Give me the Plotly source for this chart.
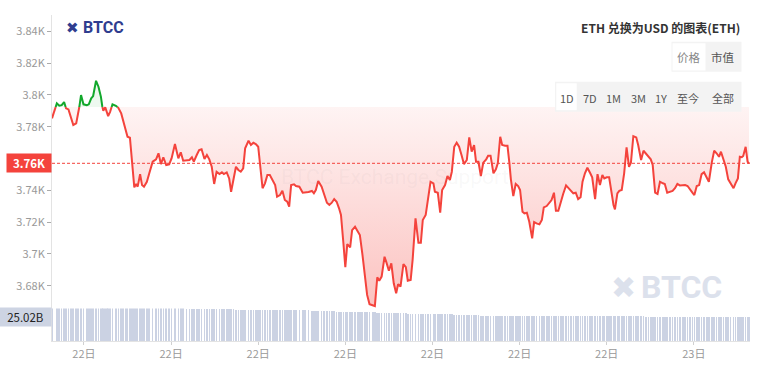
import numpy as np
import pandas as pd
import plotly.graph_objects as go

# ---------------- data ----------------
start_time = "2024-05-22 01:54"
minutes = [0, 10, 15, 20, 25, 29, 34, 39, 44, 50, 54, 60, 65, 72, 76, 81, 85, 91, 96, 101,
           104, 106, 110, 113, 116, 120, 125, 132, 137, 143, 147, 153, 156, 161, 165, 170, 174, 177, 182, 186,
           190, 196, 201, 208, 215, 220, 225, 230, 236, 242, 247, 254, 261, 266, 271, 278, 284, 289, 293, 299,
           304, 309, 315, 320, 325, 330, 335, 340, 346, 351, 355, 361, 366, 370, 375, 380, 385, 390, 395, 399,
           406, 411, 416, 421, 426, 430, 435, 440, 445, 450, 456, 461, 465, 471, 476, 481, 486, 490, 494, 500,
           504, 511, 518, 523, 530, 537, 541, 545, 550, 557, 562, 568, 573, 578, 583, 588, 593, 597, 602, 606,
           610, 616, 620, 626, 632, 636, 641, 646, 651, 656, 663, 667, 672, 676, 681, 687, 691, 696, 701, 706,
           711, 715, 720, 726, 731, 735, 741, 745, 751, 757, 762, 766, 772, 777, 782, 788, 791, 797, 802, 806,
           812, 817, 822, 826, 831, 836, 841, 846, 851, 857, 862, 867, 872, 876, 881, 886, 891, 897, 901, 906,
           912, 917, 921, 926, 930, 936, 941, 945, 948, 953, 958, 963, 967, 972, 976, 981, 986, 992, 996, 1001,
           1007, 1012, 1016, 1022, 1027, 1032, 1037, 1041, 1046, 1052, 1056, 1062, 1067, 1072, 1077, 1082, 1087, 1092, 1096, 1101,
           1106, 1112, 1116, 1122, 1127, 1132, 1137, 1141, 1146, 1151, 1155, 1160, 1163, 1168, 1172, 1177, 1182, 1187, 1192, 1196,
           1201, 1207, 1211, 1217, 1222, 1227, 1232, 1237, 1241, 1246, 1251, 1256, 1262, 1266, 1271, 1277, 1282, 1287, 1292, 1297,
           1303, 1308, 1313, 1318, 1323, 1327, 1332, 1337, 1342, 1347, 1353, 1357, 1363, 1368, 1373, 1378, 1382, 1387, 1392, 1397,
           1402, 1408, 1412, 1417, 1421, 1425, 1428, 1433, 1437, 1440]

prices = [3785.3, 3794.7, 3793.2, 3793.6, 3795.5, 3791.6, 3790.9, 3786.3, 3781.1, 3782.1,
          3787.4, 3799.9, 3794.1, 3793.6, 3794.1, 3797.9, 3799.3, 3808.9, 3805.2, 3798.9,
          3792.6, 3790.1, 3792.2, 3789.4, 3786.7, 3789.4, 3794.1, 3793.2, 3791.9, 3788.4,
          3784.2, 3777.9, 3773.7, 3773.1, 3761.1, 3741.9, 3744.0, 3742.3, 3750.2, 3743.3,
          3742.3, 3745.4, 3750.7, 3758.0, 3759.5, 3763.3, 3756.5, 3760.8, 3755.9, 3756.3,
          3760.1, 3769.1, 3760.1, 3763.9, 3758.6, 3759.1, 3759.1, 3760.8, 3758.0, 3762.2,
          3765.3, 3765.8, 3759.7, 3762.2, 3759.5, 3754.8, 3744.0, 3751.7, 3750.2, 3751.3,
          3750.2, 3751.3, 3747.5, 3739.1, 3747.5, 3754.8, 3752.8, 3751.7, 3753.8, 3766.4,
          3771.2, 3768.5, 3769.9, 3769.1, 3767.4, 3754.8, 3741.3, 3744.4, 3749.6, 3749.6,
          3746.5, 3743.3, 3736.0, 3737.0, 3739.7, 3733.9, 3732.8, 3729.7, 3743.3, 3743.8,
          3742.7, 3742.3, 3738.5, 3738.5, 3738.9, 3739.6, 3738.1, 3740.2, 3745.8, 3742.3,
          3737.0, 3732.2, 3730.8, 3732.2, 3734.5, 3732.8, 3728.7, 3724.5, 3706.7, 3691.6,
          3706.2, 3704.1, 3715.0, 3717.1, 3714.0, 3711.9, 3700.4, 3686.7, 3674.2, 3668.3,
          3667.9, 3667.2, 3685.3, 3683.1, 3685.7, 3698.2, 3694.5, 3689.4, 3694.1, 3681.5,
          3675.2, 3680.9, 3679.4, 3693.6, 3691.6, 3683.1, 3683.6, 3696.2, 3722.4, 3707.0,
          3707.0, 3721.3, 3724.5, 3733.9, 3745.4, 3744.4, 3739.1, 3738.5, 3725.9, 3740.2,
          3743.3, 3749.0, 3746.5, 3751.7, 3767.4, 3769.9, 3767.4, 3762.2, 3756.5, 3759.1,
          3773.3, 3764.3, 3768.5, 3758.0, 3758.0, 3749.0, 3757.4, 3759.5, 3761.8, 3761.8,
          3750.7, 3753.2, 3757.0, 3773.7, 3768.5, 3768.0, 3768.0, 3757.0, 3746.9, 3736.4,
          3744.0, 3742.7, 3740.2, 3726.5, 3725.5, 3725.9, 3720.2, 3709.8, 3720.0, 3719.2,
          3718.6, 3721.3, 3729.3, 3730.1, 3731.8, 3733.9, 3738.5, 3727.2, 3727.2, 3733.9,
          3737.7, 3743.1, 3741.3, 3739.7, 3738.1, 3738.5, 3734.5, 3735.6, 3745.4, 3750.7,
          3754.2, 3750.7, 3748.2, 3734.5, 3750.2, 3743.3, 3749.6, 3747.5, 3748.2, 3748.2,
          3739.1, 3730.8, 3728.0, 3738.1, 3739.7, 3740.2, 3750.7, 3767.0, 3754.8, 3757.4,
          3774.1, 3773.3, 3768.5, 3759.1, 3764.9, 3763.3, 3761.1, 3759.5, 3755.9, 3738.5,
          3737.7, 3745.4, 3744.4, 3744.0, 3738.5, 3739.1, 3739.6, 3741.3, 3744.0, 3743.1,
          3743.1, 3743.3, 3742.7, 3740.2, 3738.5, 3737.0, 3742.7, 3743.3, 3750.2, 3751.3,
          3748.2, 3745.4, 3757.4, 3764.9, 3763.3, 3761.1, 3764.3, 3760.1, 3754.8, 3746.9,
          3744.4, 3741.3, 3744.4, 3747.5, 3761.1, 3760.8, 3761.6, 3767.4, 3758.0, 3757.0]

# 24h volume, billions USD
volumes = [34.6, 34.7, 34.6, 34.5, 34.6, 34.7, 34.6, 34.6, 34.5, 34.6,
           34.7, 34.6, 34.6, 34.5, 34.6, 34.6, 34.7, 34.6, 34.5, 34.6,
           34.6, 34.5, 34.6, 34.6, 34.5, 34.6, 34.5, 34.5, 34.6, 34.5,
           34.4, 34.5, 34.5, 34.4, 34.5, 34.4, 34.4, 34.5, 34.4, 34.3,
           34.4, 34.3, 34.3, 34.4, 34.3, 34.2, 34.3, 34.2, 34.2, 34.3,
           34.2, 34.1, 34.1, 34.0, 34.0, 33.9, 33.9, 33.8, 33.8, 33.7,
           33.7, 33.6, 33.6, 33.5, 33.5, 33.4, 33.4, 33.3, 33.3, 33.2,
           33.2, 33.1, 33.1, 33.0, 33.0, 32.9, 32.9, 32.9, 32.8, 32.8,
           32.8, 32.7, 32.7, 32.7, 32.6, 32.6, 32.6, 32.5, 32.5, 32.5,
           32.4, 32.4, 32.4, 32.3, 32.3, 32.3, 32.2, 32.2, 32.2, 32.1,
           32.1, 32.1, 32.0, 32.0, 31.9, 31.8, 31.7, 31.6, 31.5, 31.4,
           31.3, 31.2, 31.1, 31.0, 30.9, 30.8, 30.7, 30.6, 30.4, 30.3,
           30.2, 30.1, 30.1, 30.0, 30.0, 30.0, 29.9, 29.9, 29.9, 29.8,
           29.8, 29.8, 29.7, 29.7, 29.6, 29.5, 29.4, 29.3, 29.2, 29.1,
           29.0, 28.9, 28.8, 28.7, 28.7, 28.6, 28.6, 28.6, 28.5, 28.5,
           28.5, 28.4, 28.4, 28.4, 28.3, 28.3, 28.3, 28.2, 28.2, 28.1,
           28.0, 27.9, 27.8, 27.7, 27.6, 27.5, 27.4, 27.3, 27.2, 27.1,
           27.0, 26.9, 26.8, 26.7, 26.6, 26.5, 26.4, 26.3, 26.3, 26.2,
           26.2, 26.2, 26.2, 26.1, 26.1, 26.1, 26.1, 26.1, 26.0, 26.0,
           26.0, 26.0, 26.0, 26.0, 26.0, 25.9, 25.9, 25.9, 25.9, 25.9,
           25.9, 25.9, 25.9, 25.9, 25.9, 25.8, 25.8, 25.8, 25.8, 25.8,
           25.8, 25.8, 25.8, 25.8, 25.8, 25.8, 25.8, 25.8, 25.7, 25.7,
           25.7, 25.7, 25.7, 25.7, 25.7, 25.7, 25.7, 25.7, 25.7, 25.7,
           25.7, 25.6, 25.6, 25.6, 25.6, 25.6, 25.6, 25.6, 25.6, 25.6,
           25.6, 25.6, 25.6, 25.6, 25.6, 25.5, 25.5, 25.5, 25.5, 25.5,
           25.5, 25.5, 25.5, 25.5, 25.5, 25.5, 25.5, 25.5, 25.4, 25.4,
           25.4, 25.4, 25.4, 25.4, 25.3, 25.3, 25.3, 25.3, 25.3, 25.2,
           25.2, 25.2, 25.2, 25.2, 25.1, 25.1, 25.1, 25.1, 25.1, 25.1,
           25.1, 25.1, 25.1, 25.0, 25.0, 25.0, 25.0, 25.0, 25.0, 25.02]

baseline_price = 3792.4
current_price = prices[-1]
current_price_label = "3.76K"
current_volume_label = "25.02B"

# the 3.76K tick sits under the current-price label, so it is not shown separately
price_tickvals = [3680, 3700, 3720, 3740, 3780, 3800, 3820, 3840]
price_ticktext = ["3.68K", "3.7K", "3.72K", "3.74K", "3.78K", "3.8K", "3.82K", "3.84K"]

x_tick_times = ["2024-05-22 03:00", "2024-05-22 06:00", "2024-05-22 09:00", "2024-05-22 12:00",
                "2024-05-22 15:00", "2024-05-22 18:00", "2024-05-22 21:00", "2024-05-23 00:00"]
x_tick_labels = ["22日", "22日", "22日", "22日", "22日", "22日", "22日", "23日"]

chart_title = "ETH 兑换为USD 的图表(ETH)"
view_buttons = ["价格", "市值"]
range_buttons = ["1D", "7D", "1M", "3M", "1Y", "至今", "全部"]

# ---------------- styling ----------------
RED = "#f4433c"
GREEN = "#12a82c"
FONT = "Noto Sans CJK SC, Noto Sans, sans-serif"
W, H = 766, 372
ML, MR, MT, MB = 52, 16, 15, 31
PW, PH = W - ML - MR, H - MT - MB


def px(x):
    return (x - ML) / PW


def py(y):
    return (H - MB - y) / PH


t0 = pd.Timestamp(start_time)
tm = np.array(minutes, dtype=float)
pr = np.array(prices, dtype=float)
B = baseline_price

# insert baseline crossings so colours switch exactly at the baseline
xs, ys = [tm[0]], [pr[0]]
for i in range(1, len(pr)):
    a, b = pr[i - 1] - B, pr[i] - B
    if a * b < 0:
        f = a / (a - b)
        xs.append(tm[i - 1] + f * (tm[i] - tm[i - 1]))
        ys.append(B)
    xs.append(tm[i])
    ys.append(pr[i])
xs = np.array(xs)
ys = np.array(ys)
times = t0 + pd.to_timedelta(xs, unit="m")
bar_times = t0 + pd.to_timedelta(tm, unit="m")

lower = np.minimum(ys, B)
upper = np.maximum(ys, B)
red_y = np.where(ys <= B, ys, np.nan)
green_y = np.where(ys >= B, ys, np.nan)

fig = go.Figure()

fig.add_trace(go.Bar(x=bar_times, y=volumes, yaxis="y2", marker=dict(color="#cbd2e3", line=dict(width=0)),
                     width=1.3 * 60 * 1000, hoverinfo="skip", showlegend=False))

fig.add_trace(go.Scatter(x=times, y=np.full(len(xs), B), mode="lines", line=dict(width=0),
                         hoverinfo="skip", showlegend=False))
fig.add_trace(go.Scatter(x=times, y=lower, mode="lines", line=dict(width=0), fill="tonexty",
                         fillgradient=dict(type="vertical",
                                           colorscale=[[0, "rgba(244,67,60,0.32)"], [1, "rgba(244,67,60,0.06)"]],
                                           start=3667, stop=B),
                         hoverinfo="skip", showlegend=False))
fig.add_trace(go.Scatter(x=times, y=np.full(len(xs), B), mode="lines", line=dict(width=0),
                         hoverinfo="skip", showlegend=False))
fig.add_trace(go.Scatter(x=times, y=upper, mode="lines", line=dict(width=0), fill="tonexty",
                         fillcolor="rgba(18,168,44,0.07)", hoverinfo="skip", showlegend=False))

fig.add_trace(go.Scatter(x=times, y=red_y, mode="lines", line=dict(color=RED, width=2),
                         connectgaps=False, showlegend=False))
fig.add_trace(go.Scatter(x=times, y=green_y, mode="lines", line=dict(color=GREEN, width=2),
                         connectgaps=False, showlegend=False))

shapes = []
# current price dashed line
shapes.append(dict(type="line", xref="paper", yref="y", x0=0, x1=1, y0=current_price, y1=current_price,
                   line=dict(color=RED, width=1, dash="3px,2px"), layer="above"))
# button groups
shapes.append(dict(type="rect", xref="paper", yref="paper", x0=px(671.5), x1=px(741.5), y0=py(71.7), y1=py(41.7),
                   fillcolor="#f3f3f3", line=dict(width=0), layer="above"))
shapes.append(dict(type="rect", xref="paper", yref="paper", x0=px(672.5), x1=px(705.5), y0=py(70.5), y1=py(43.3),
                   fillcolor="#ffffff", line=dict(width=0), layer="above"))
shapes.append(dict(type="rect", xref="paper", yref="paper", x0=px(555), x1=px(741.5), y0=py(111.7), y1=py(81.7),
                   fillcolor="#f3f3f3", line=dict(width=0), layer="above"))
shapes.append(dict(type="rect", xref="paper", yref="paper", x0=px(556.3), x1=px(576.7), y0=py(110.2), y1=py(83.3),
                   fillcolor="#ffffff", line=dict(width=0), layer="above"))

ann = []
ann.append(dict(xref="paper", yref="paper", x=px(741.5), y=py(27), xanchor="right", yanchor="middle",
                text="<b>" + chart_title + "</b>", showarrow=False,
                font=dict(size=12, color="#333333", family=FONT)))
view_x = [688.8, 722.5]
view_col = ["#888888", "#555555"]
for lbl, xx, cc in zip(view_buttons, view_x, view_col):
    ann.append(dict(xref="paper", yref="paper", x=px(xx), y=py(57), xanchor="center", yanchor="middle",
                    text=lbl, showarrow=False, font=dict(size=11.5, color=cc, family=FONT)))
range_x = [566.5, 590, 613.3, 638.3, 660.7, 688.3, 722.7]
for lbl, xx in zip(range_buttons, range_x):
    ann.append(dict(xref="paper", yref="paper", x=px(xx), y=py(97.5), xanchor="center", yanchor="middle",
                    text=lbl, showarrow=False, font=dict(size=11, color="#555555", family=FONT)))

# logo top-left
ann.append(dict(xref="paper", yref="paper", x=px(64), y=py(28), xanchor="left", yanchor="middle",
                text="✖", showarrow=False, font=dict(size=15, color="#2f3d8f", family="DejaVu Sans")))
ann.append(dict(xref="paper", yref="paper", x=px(81), y=py(28), xanchor="left", yanchor="middle",
                text="<b>BTCC</b>", showarrow=False, font=dict(size=16, color="#2f3d8f", family="Roboto")))
# watermark bottom-right
ann.append(dict(xref="paper", yref="paper", x=px(609), y=py(287), xanchor="left", yanchor="middle",
                text="✖", showarrow=False, font=dict(size=30, color="#dce1ec", family="DejaVu Sans")))
ann.append(dict(xref="paper", yref="paper", x=px(639), y=py(287), xanchor="left", yanchor="middle",
                text="<b>BTCC</b>", showarrow=False, font=dict(size=32, color="#dce1ec", family="Roboto")))
# faint centre watermark
ann.append(dict(xref="paper", yref="paper", x=px(395), y=py(177), xanchor="center", yanchor="middle",
                text="BTCC Exchange Support", showarrow=False,
                font=dict(size=21, color="rgba(160,160,160,0.08)", family="Roboto")))

# current price label
ann.append(dict(xref="paper", yref="y", x=0, y=current_price, xanchor="right", yanchor="middle",
                text="<b>" + current_price_label + "</b>", showarrow=False, bgcolor=RED, width=42, height=16,
                borderpad=1, align="center", font=dict(size=11.5, color="#ffffff", family=FONT)))
# volume label
ann.append(dict(xref="paper", yref="y2", x=0, y=volumes[-1], xanchor="right", yanchor="middle",
                text=current_volume_label, showarrow=False, bgcolor="#cdd4e3", width=49, height=16,
                borderpad=1, align="center", font=dict(size=11.5, color="#222222", family=FONT)))

fig.update_layout(
    width=W, height=H, margin=dict(l=ML, r=MR, t=MT, b=MB, autoexpand=False),
    paper_bgcolor="#ffffff", plot_bgcolor="#ffffff",
    font=dict(family=FONT, color="#999999", size=11),
    showlegend=False, bargap=0,
    shapes=shapes, annotations=ann,
    xaxis=dict(type="date", range=[t0, t0 + pd.Timedelta(minutes=1442)],
               tickvals=pd.to_datetime(x_tick_times), ticktext=x_tick_labels,
               showgrid=False, zeroline=False, showline=True, linecolor="#e3e3e3", linewidth=1,
               ticks="outside", ticklen=3, tickcolor="#d0d0d0",
               tickfont=dict(size=11, color="#999999", family=FONT), fixedrange=True),
    yaxis=dict(domain=[0, 1], range=[3645.2, 3850.3], tickvals=price_tickvals, ticktext=price_ticktext,
               showgrid=False, zeroline=False, showline=True, linecolor="#e3e3e3", linewidth=1,
               ticks="outside", ticklen=4, tickcolor="#aaaaaa",
               tickfont=dict(size=11, color="#999999", family=FONT), fixedrange=True),
    yaxis2=dict(domain=[0, 0.1], range=[0, 34.5], visible=False, fixedrange=True, anchor="x"),
)

fig.write_html("out.html", config={"displayModeBar": False},
               post_script="document.body.style.margin='0';document.body.style.overflow='hidden';")
